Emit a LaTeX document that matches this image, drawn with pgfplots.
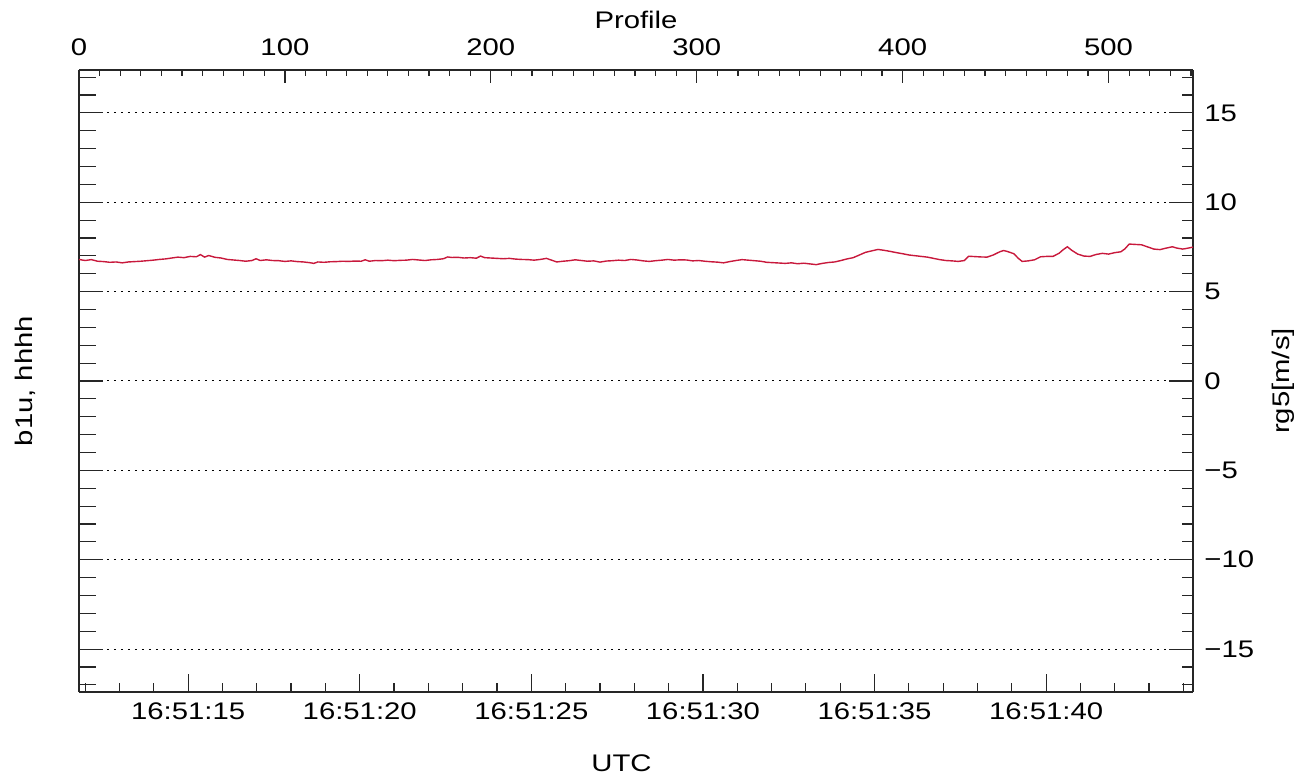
\documentclass[border=0pt]{standalone}
\usepackage{fontspec}
\setmainfont{Liberation Sans}[FakeStretch=1.22]
\usepackage{pgfplots}
\usepackage{pgfplotstable}
\pgfplotsset{compat=1.18}
\definecolor{linecol}{RGB}{200,25,60}
\pgfplotstableread{
x y
0 6.80
3 6.74
6 6.79
9 6.70
12 6.68
15 6.64
18 6.66
21 6.61
24 6.66
27 6.68
30 6.70
33 6.73
36 6.76
39 6.80
42 6.83
45 6.88
48 6.93
51 6.90
54 6.97
57 6.95
59 7.07
61 6.93
63 7.02
66 6.92
69 6.88
72 6.80
75 6.77
78 6.74
81 6.70
84 6.74
86 6.84
88 6.74
91 6.78
94 6.74
97 6.73
100 6.69
103 6.72
106 6.68
109 6.66
112 6.62
114 6.58
116 6.66
119 6.64
122 6.67
125 6.68
128 6.70
131 6.69
134 6.71
137 6.70
139 6.78
141 6.70
144 6.74
147 6.73
150 6.76
153 6.73
156 6.75
159 6.76
162 6.80
165 6.77
168 6.74
171 6.78
174 6.80
177 6.84
179 6.94
181 6.91
184 6.92
187 6.88
190 6.90
193 6.87
195 6.99
197 6.90
200 6.88
203 6.86
206 6.84
209 6.86
212 6.82
215 6.80
218 6.79
221 6.76
224 6.80
227 6.86
230 6.74
232 6.66
235 6.70
238 6.73
241 6.78
244 6.74
247 6.70
250 6.72
253 6.65
256 6.71
259 6.73
262 6.76
265 6.74
268 6.80
271 6.77
274 6.72
277 6.69
280 6.73
283 6.76
286 6.80
289 6.76
292 6.78
295 6.77
298 6.72
301 6.74
304 6.70
307 6.67
310 6.65
313 6.61
316 6.68
319 6.74
322 6.79
325 6.76
328 6.73
331 6.70
334 6.64
337 6.62
340 6.60
343 6.58
346 6.61
349 6.56
352 6.59
355 6.55
358 6.51
361 6.58
364 6.63
367 6.66
370 6.74
373 6.83
376 6.90
379 7.05
382 7.20
385 7.28
388 7.36
391 7.31
394 7.25
397 7.18
400 7.12
403 7.05
406 7.01
409 6.97
412 6.93
415 6.86
418 6.79
421 6.74
424 6.72
427 6.69
430 6.74
432 6.98
435 6.96
438 6.94
441 6.93
444 7.05
447 7.22
449 7.30
451 7.24
454 7.12
456 6.88
458 6.69
461 6.72
464 6.78
467 6.95
470 6.97
473 6.97
476 7.15
478 7.35
480 7.51
482 7.32
485 7.10
488 6.99
491 6.97
494 7.08
497 7.14
500 7.10
503 7.18
506 7.23
508 7.40
510 7.66
513 7.64
516 7.62
519 7.50
522 7.38
525 7.35
527 7.41
529 7.46
531 7.51
533 7.44
536 7.38
538 7.42
541 7.49
}\datatable
\begin{document}
\fontsize{12}{14}\selectfont
\begin{tikzpicture}
\pgfplotsset{
  base/.style={scale only axis, width=557pt, height=311pt, at={(0,0)}, anchor=south west,
    ymin=-17.4, ymax=17.4, tick align=inside,
    axis line style={black!85, line width=0.8pt},
    every tick/.style={black!85, line width=0.6pt},
    /pgf/number format/assume math mode=true},
}
% left
\begin{axis}[base, xmin=0, xmax=1, axis x line=none, axis y line*=left,
  ytick={-15,-10,...,15}, minor ytick={-17,...,17}, yticklabels={},
  major tick length=12pt, minor tick length=8.5pt,
  ymajorgrids, major grid style={black, line width=0.5pt, dash pattern=on 1.2pt off 2.3pt},
  ylabel={b1u, hhhh}, ylabel style={at={(rel axis cs:-0.0485,0.5)}, anchor=center}]
\end{axis}
% right
\begin{axis}[base, xmin=0, xmax=1, axis x line=none, axis y line*=right,
  ytick={-15,-10,...,15}, minor ytick={-17,...,17},
  yticklabels={−15,−10,−5,0,5,10,15},
  major tick length=12pt, minor tick length=5.5pt,
  yticklabel style={xshift=1.5pt},
  ylabel={rg5[m/s]}, ylabel style={at={(rel axis cs:1.0808,0.5)}, anchor=center}]
\end{axis}
% bottom
\begin{axis}[base, xmin=11.82, xmax=44.28, axis y line=none, axis x line*=bottom,
  xtick={15,20,25,30,35,40}, minor xtick={12,...,44},
  xticklabels={16:51:15,16:51:20,16:51:25,16:51:30,16:51:35,16:51:40},
  major tick length=9pt, minor tick length=4.5pt,
  xticklabel style={yshift=-1pt},
  xlabel={UTC}, xlabel style={at={(rel axis cs:0.487,-0.114)}, anchor=center}]
\end{axis}
% top
\begin{axis}[base, xmin=0, xmax=541, axis y line=none, axis x line*=top,
  xtick={0,100,...,500}, minor xtick={0,10,...,540},
  major tick length=6.5pt, minor tick length=3pt,
  xticklabel style={yshift=3pt},
  xlabel={Profile}, xlabel style={at={(rel axis cs:0.5,1.0804)}, anchor=center}]
\addplot[linecol, line width=0.7pt] table[x=x, y=y] {\datatable};
\end{axis}
\pgfresetboundingbox
\path (-39.5pt,-44.5pt) rectangle (618pt,346pt);
\end{tikzpicture}
\end{document}
